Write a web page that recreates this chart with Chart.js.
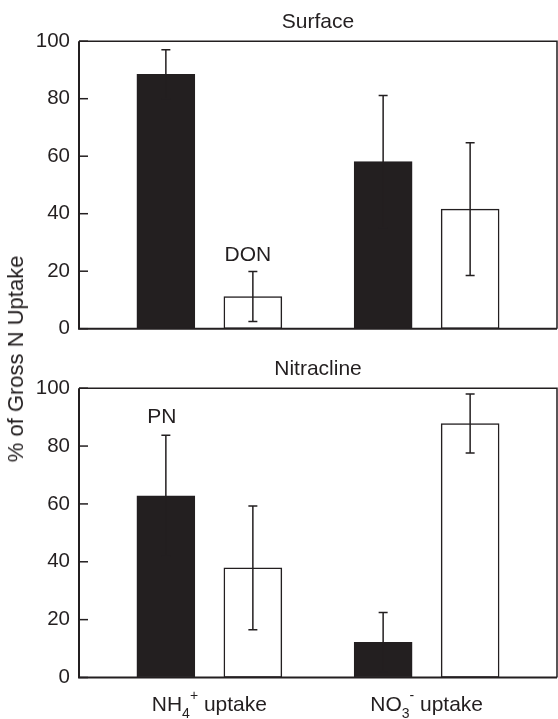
<!DOCTYPE html>
<html>
<head>
<meta charset="utf-8">
<script src="https://cdn.jsdelivr.net/npm/chart.js@4"></script>
<style>
  body { margin: 0; background: #fff; width: 558px; height: 719px; position: relative; overflow: hidden;
         font-family: "Liberation Sans", Arial, sans-serif; }
  #top { position: absolute; left: 0; top: 0; }
  #bottom { position: absolute; left: 0; top: 350px; }
  #ylabel { position: absolute; left: 16px; top: 359px; transform: translate(-50%, -50%) rotate(-90deg);
            font-size: 22px; color: #231f20; white-space: nowrap; }
</style>
</head>
<body>
<canvas id="top" width="558" height="350"></canvas>
<canvas id="bottom" width="558" height="369"></canvas>
<div id="ylabel">% of Gross N Uptake</div>
<script>
// categories (x) drawn with sub/superscripts
const groups = ['NH4+ uptake', 'NO3- uptake'];
const groupLabels = [
    [['NH', ''], ['4', 'sub'], ['+', 'sup'], [' uptake', '']],
    [['NO', ''], ['3', 'sub'], ['-', 'sup'], [' uptake', '']]
];
const seriesNames = ['PN', 'DON'];
const yTicks = [0, 20, 40, 60, 80, 100];

// Surface
const surfacePN = [88.5, 58.1];
const surfacePNsd = [8.5, 23.0];
const surfaceDON = [11.2, 41.6];
const surfaceDONsd = [8.7, 23.1];

// Nitracline
const nitraclinePN = [62.8, 12.2];
const nitraclinePNsd = [20.9, 10.3];
const nitraclineDON = [37.9, 87.8];
const nitraclineDONsd = [21.4, 10.2];

const INK = '#231f20';
const FONT = '"Liberation Sans", Arial, sans-serif';

// frame box + inward tick marks
const framePlugin = {
    id: 'frame',
    afterDatasetsDraw(chart) {
        const ctx = chart.ctx;
        const a = chart.chartArea;
        const y = chart.scales.y;
        ctx.save();
        ctx.strokeStyle = INK;
        ctx.lineWidth = 1.5;
        ctx.beginPath();
        ctx.moveTo(a.left, a.top);
        ctx.lineTo(a.right, a.top);
        ctx.lineTo(a.right, a.bottom);
        ctx.stroke();
        ctx.lineWidth = 2;
        ctx.beginPath();
        ctx.moveTo(a.left, a.top);
        ctx.lineTo(a.left, a.bottom);
        ctx.lineTo(a.right, a.bottom);
        ctx.stroke();
        ctx.lineWidth = 1.5;
        y.ticks.forEach(t => {
            const py = y.getPixelForValue(t.value);
            ctx.beginPath();
            ctx.moveTo(a.left, py);
            ctx.lineTo(a.left + 9, py);
            ctx.stroke();
        });
        ctx.restore();
    }
};

// error bars from dataset.sd
const errorPlugin = {
    id: 'errbars',
    afterDatasetsDraw(chart) {
        const ctx = chart.ctx;
        const y = chart.scales.y;
        ctx.save();
        ctx.strokeStyle = INK;
        ctx.lineWidth = 1.5;
        chart.data.datasets.forEach((ds, di) => {
            const meta = chart.getDatasetMeta(di);
            meta.data.forEach((bar, i) => {
                const v = ds.data[i].y;
                const top = y.getPixelForValue(v + ds.sd[i]);
                const bot = y.getPixelForValue(v - ds.sd[i]);
                ctx.beginPath();
                ctx.moveTo(bar.x, top);
                ctx.lineTo(bar.x, bot);
                ctx.moveTo(bar.x - 4.5, top);
                ctx.lineTo(bar.x + 4.5, top);
                ctx.moveTo(bar.x - 4.5, bot);
                ctx.lineTo(bar.x + 4.5, bot);
                ctx.stroke();
            });
        });
        ctx.restore();
    }
};

// series tags (DON / PN)
const tagPlugin = {
    id: 'tags',
    afterDatasetsDraw(chart, args, opts) {
        const ctx = chart.ctx;
        ctx.save();
        ctx.fillStyle = INK;
        ctx.font = '21px ' + FONT;
        ctx.textAlign = 'center';
        ctx.textBaseline = 'alphabetic';
        (opts.items || []).forEach(t => {
            const bar = chart.getDatasetMeta(t.ds).data[t.i];
            ctx.fillText(t.text, bar.x + t.dx, chart.scales.y.getPixelForValue(t.y));
        });
        ctx.restore();
    }
};

// x labels with sub/superscripts
const xLabelPlugin = {
    id: 'xlabels',
    afterDraw(chart, args, opts) {
        if (!opts.show) return;
        const ctx = chart.ctx;
        const x = chart.scales.x;
        const base = chart.chartArea.bottom + 33;
        ctx.save();
        ctx.fillStyle = INK;
        ctx.textBaseline = 'alphabetic';
        ctx.textAlign = 'left';
        const fontFor = k => (k ? '14px ' : '21px ') + FONT;
        groupLabels.forEach((parts, i) => {
            let w = 0;
            parts.forEach(p => { ctx.font = fontFor(p[1]); w += ctx.measureText(p[0]).width; });
            let px = x.getPixelForValue(i) - w / 2;
            parts.forEach(p => {
                ctx.font = fontFor(p[1]);
                const dy = p[1] === 'sub' ? 7 : p[1] === 'sup' ? -11 : 0;
                ctx.fillText(p[0], px, base + dy);
                px += ctx.measureText(p[0]).width;
            });
        });
        ctx.restore();
    }
};

function makePanel(canvas, title, pn, pnSd, don, donSd, cfg) {
    return new Chart(canvas, {
        type: 'bar',
        data: {
            labels: groups,
            datasets: [{
                label: seriesNames[0],
                data: pn.map((v, i) => ({ x: i, y: v })),
                sd: pnSd,
                backgroundColor: INK,
                borderColor: INK,
                borderWidth: 1,
                borderSkipped: false
            }, {
                label: seriesNames[1],
                data: don.map((v, i) => ({ x: i, y: v })),
                sd: donSd,
                backgroundColor: '#ffffff',
                borderColor: INK,
                borderWidth: 1.5,
                borderSkipped: false
            }]
        },
        options: {
            responsive: false,
            animation: false,
            devicePixelRatio: 1,
            layout: { padding: { left: 0, right: 1, top: 0, bottom: cfg.padBottom } },
            datasets: { bar: { barThickness: 87, maxBarThickness: 58, grouped: true } },
            plugins: {
                legend: { display: false },
                tooltip: { enabled: false },
                title: {
                    display: true,
                    text: title,
                    fullSize: false,
                    color: INK,
                    font: { family: FONT, size: 21, weight: 'normal' },
                    padding: cfg.titlePad
                },
                tags: { items: cfg.tags },
                xlabels: { show: cfg.xlabels }
            },
            scales: {
                x: { type: 'linear', min: -0.6, max: 1.6, offset: false, display: false },
                y: {
                    min: 0,
                    max: 100,
                    afterBuildTicks: s => { s.ticks = yTicks.map(v => ({ value: v })); },
                    afterFit: s => { s.width = 79; },
                    grid: { display: false, drawTicks: false },
                    border: { display: false },
                    ticks: { padding: 9, color: INK, font: { family: FONT, size: 20.5 } }
                }
            }
        },
        plugins: [framePlugin, errorPlugin, tagPlugin, xLabelPlugin]
    });
}

makePanel(document.getElementById('top'), 'Surface',
    surfacePN, surfacePNsd, surfaceDON, surfaceDONsd, {
        padBottom: 18,
        titlePad: { top: 10, bottom: 6 },
        tags: [{ text: 'DON', ds: 1, i: 0, y: 23.7, dx: -5 }],
        xlabels: false
    });

makePanel(document.getElementById('bottom'), 'Nitracline',
    nitraclinePN, nitraclinePNsd, nitraclineDON, nitraclineDONsd, {
        padBottom: 41.5,
        titlePad: { top: 7, bottom: 6 },
        tags: [{ text: 'PN', ds: 0, i: 0, y: 87.9, dx: -4 }],
        xlabels: true
    });
</script>
</body>
</html>
